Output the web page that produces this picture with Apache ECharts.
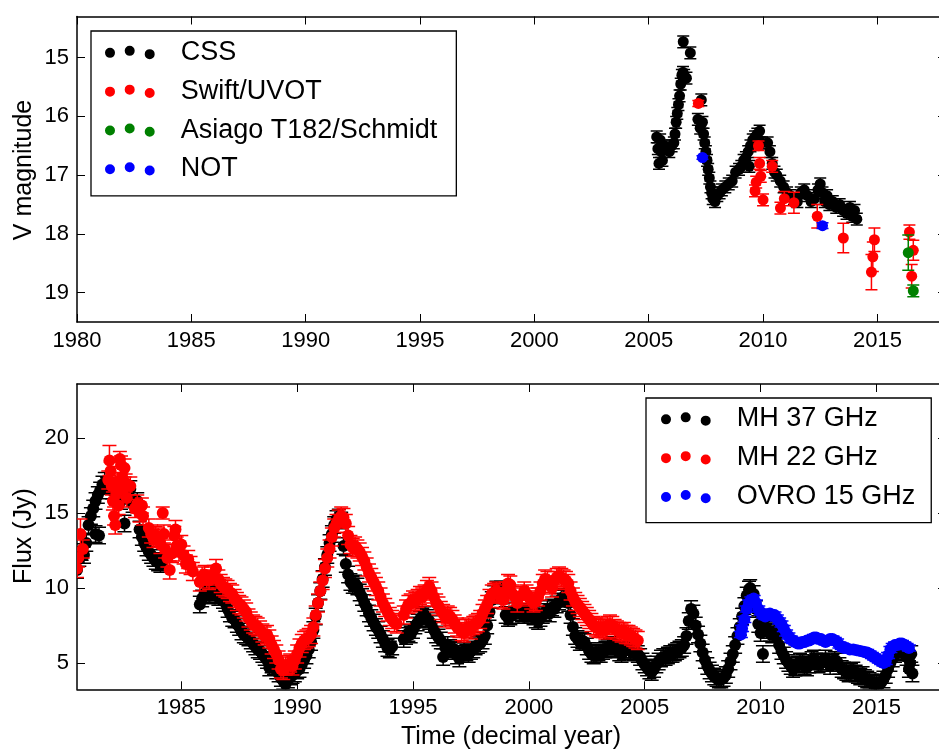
<!DOCTYPE html>
<html><head><meta charset="utf-8">
<script src="https://cdn.jsdelivr.net/npm/echarts@6/dist/echarts.min.js"></script>
<style>html,body{margin:0;padding:0;background:#fff;overflow:hidden}#c{width:939px;height:749px}</style>
</head><body><div id="c"></div>
<script>
// ---------- DATA ----------
const xTicksTop = [1980,1985,1990,1995,2000,2005,2010,2015];
const xTicksBot = [1985,1990,1995,2000,2005,2010,2015];
const magTicks = [15,16,17,18,19];
const fluxTicks = [5,10,15,20];

// [year, V mag, (err)]
const css = [[2005.35,16.35],[2005.4,16.55],[2005.45,16.8],[2005.5,16.4],[2005.55,16.6],[2005.6,16.75],[2005.7,16.5],[2005.8,16.55],[2005.9,16.6],[2006.0,16.5],[2006.1,16.45],[2006.15,16.3],[2006.2,16.1],[2006.25,15.95],[2006.3,15.8],[2006.35,15.65],[2006.4,15.45],[2006.45,15.3],[2006.5,15.25],[2006.55,15.3],[2006.65,15.35],[2006.51,14.73],[2006.82,14.92],[2007.3,15.72],[2007.15,16.05],[2007.25,16.2],[2007.35,16.1],[2007.4,16.3],[2007.45,16.45],[2007.5,16.6],[2007.55,16.75],[2007.6,16.9],[2007.65,17.05],[2007.7,17.2],[2007.75,17.3],[2007.8,17.4],[2007.9,17.45],[2008.0,17.35],[2008.1,17.3],[2008.2,17.25],[2008.35,17.2],[2008.5,17.15],[2008.65,17.1],[2008.8,16.95],[2008.95,16.9],[2009.05,16.85],[2009.15,16.75],[2009.25,16.7],[2009.35,16.6],[2009.4,16.85],[2009.45,16.5],[2009.55,16.4],[2009.65,16.35],[2009.75,16.3],[2009.85,16.25],[2009.95,16.45],[2010.2,16.45],[2010.3,16.6],[2010.4,16.8],[2010.5,16.95],[2010.6,17.0],[2010.75,17.1],[2010.9,17.2],[2011.05,17.3],[2011.2,17.35],[2011.35,17.4],[2011.5,17.45],[2011.65,17.3],[2011.8,17.25],[2011.95,17.35],[2012.1,17.45],[2012.25,17.4],[2012.4,17.25],[2012.5,17.15],[2012.6,17.3],[2012.7,17.45],[2012.8,17.35],[2012.9,17.5],[2013.05,17.45],[2013.2,17.55],[2013.35,17.5],[2013.5,17.6],[2013.65,17.65],[2013.8,17.55],[2013.9,17.7],[2014.0,17.6],[2014.1,17.75]];
const swift = [[2007.17,15.78,0.05],[2009.65,17.27,0.1],[2009.8,16.5,0.08],[2009.85,16.8,0.1],[2009.9,17.02,0.1],[2009.7,17.12,0.1],[2010.0,17.42,0.1],[2010.4,16.85,0.1],[2010.76,17.56,0.1],[2010.93,17.4,0.12],[2011.35,17.47,0.18],[2012.37,17.7,0.2],[2013.51,18.07,0.25],[2014.74,18.65,0.3],[2014.8,18.39,0.25],[2014.87,18.1,0.2],[2016.4,17.97,0.12],[2016.57,18.28,0.17],[2016.5,18.72,0.2]];
const asiago = [[2016.35,18.32,0.3],[2016.57,18.97,0.1]];
const notObs = [[2007.35,16.7,0.03],[2012.6,17.86,0.05]];

// [year, flux Jy, (err)]
const mh37 = [[1980.5,11.2],[1980.6,12.0],[1980.7,12.4],[1980.8,12.2],[1980.9,13.0],[1981.0,14.2],[1981.1,14.8],[1981.2,15.3],[1981.3,13.6],[1981.3,15.8],[1981.4,16.2],[1981.45,13.5],[1981.5,16.5],[1981.6,16.9],[1981.7,17.0,0.7],[1981.8,16.8],[1982.0,16.5],[1982.2,16.2],[1982.4,15.8],[1982.55,14.3],[1982.6,16.2],[1982.8,16.6],[1982.9,15.6],[1983.1,15.8],[1983.2,13.9],[1983.3,13.4],[1983.4,13.0],[1983.5,12.7],[1983.6,12.4],[1983.7,12.2],[1983.8,12.0],[1983.9,11.8],[1984.0,11.7],[1984.1,11.6],[1984.2,11.8],
[1985.8,8.9],[1985.9,9.3],[1986.0,9.6],[1986.1,9.8],[1986.2,9.5],[1986.3,9.7],[1986.4,9.9],[1986.5,9.6],[1986.6,9.4],[1986.7,9.5],[1986.8,9.2],[1986.9,9.0],[1987.0,8.6],[1987.1,8.3],[1987.2,8.0],[1987.3,7.9],[1987.4,7.6],[1987.5,7.4],[1987.6,7.1],[1987.7,6.9],[1987.8,6.8],[1987.9,6.7],[1988.0,6.5],[1988.1,6.3],[1988.2,6.1],[1988.3,5.9],[1988.4,5.8],[1988.5,5.6],[1988.6,5.4],[1988.7,5.2],[1988.8,4.7],[1988.9,4.9],[1989.0,4.8],[1989.1,4.5],[1989.2,4.3],[1989.3,4.0],[1989.4,3.8],[1989.5,3.6],[1989.6,3.9],[1989.7,4.1],[1989.8,4.2],[1989.9,4.3],[1990.0,4.5],[1990.1,4.6],[1990.2,4.9],[1990.3,5.2],[1990.4,5.5],[1990.5,5.9],[1990.6,6.4],[1990.7,7.2],[1990.8,8.1],[1990.9,9.0],[1991.0,9.8],[1991.1,10.6],[1991.2,11.4],[1991.3,12.2],[1991.4,13.0],[1991.5,13.6],[1991.6,14.2],[1991.7,14.6],[1991.8,14.7],[1991.9,14.5],[1992.0,12.8],[1992.1,11.6],[1992.2,10.9],[1992.3,10.4],[1992.4,10.2],[1992.5,10.3],[1992.6,10.1],[1992.7,9.7],[1992.8,9.4],[1992.9,9.0],[1993.0,8.7],[1993.1,8.3],[1993.2,8.0],[1993.3,7.7],[1993.4,7.4],[1993.5,7.2],[1993.6,6.9],[1993.7,6.6],[1993.8,6.3],[1993.9,6.0],[1994.0,5.9],[1994.1,6.1],
[1994.6,6.6],[1994.7,6.8],[1994.8,7.0],[1994.9,6.9],[1995.0,7.2],[1995.1,7.5],[1995.2,7.7],[1995.3,7.9],[1995.4,8.1],[1995.5,8.2],[1995.6,8.0],[1995.7,7.8],[1995.8,7.6],[1995.9,7.2],[1996.0,6.9],[1996.1,6.7],[1996.2,6.5],[1996.3,5.4],[1996.4,6.0],[1996.5,6.2],[1996.6,6.0],[1996.7,5.8],[1996.8,5.9],[1996.9,5.5],[1997.0,5.3],[1997.1,5.6],[1997.2,5.8],[1997.3,5.7],[1997.4,5.6],[1997.5,5.8],[1997.6,5.9],[1997.7,6.1],[1997.8,6.2],[1997.9,6.3],[1998.0,6.5],[1998.1,6.8],[1998.2,7.5],[1998.3,8.4],[1998.4,9.2],[1998.5,9.6],[1998.6,9.9],[1998.7,9.8],[1998.8,9.9],[1998.9,9.5],[1999.0,8.2],[1999.1,8.0],[1999.2,8.1],[1999.3,8.2],[1999.4,8.5],[1999.5,8.8],[1999.6,8.4],[1999.7,8.3],[1999.8,8.2],[1999.9,8.4],[2000.0,8.3],[2000.1,8.2],[2000.2,8.1],[2000.3,7.9],[2000.4,7.8],[2000.5,8.0],[2000.6,8.2],[2000.7,8.4],[2000.8,8.6],[2000.9,8.3],[2001.0,8.7],[2001.1,8.6],[2001.2,8.9],[2001.3,9.1],[2001.4,9.3],[2001.5,9.4],[2001.6,9.3],[2001.7,9.0],[2001.8,8.2],[2001.9,7.4],[2002.0,6.8],[2002.1,6.6],[2002.2,6.4],[2002.3,6.5],[2002.4,6.4],[2002.5,6.1],[2002.6,5.8],[2002.7,5.6],[2002.8,5.5],[2002.9,5.6],[2003.0,5.7],[2003.1,5.6],[2003.2,5.8],[2003.3,5.9],[2003.4,6.0],[2003.5,6.1],[2003.6,6.2],[2003.7,6.0],[2003.8,5.9],[2003.9,5.7],[2004.0,5.6],[2004.1,5.8],[2004.2,5.9],[2004.3,5.9],[2004.4,5.8],[2004.5,5.7],[2004.6,5.8],[2004.7,5.6],[2004.8,5.4],[2004.9,5.1],[2005.0,4.9],[2005.1,4.7],[2005.2,4.5],[2005.3,4.4],[2005.4,4.6],[2005.5,4.9],[2005.6,5.1],[2005.7,5.3],[2005.8,5.4],[2005.9,5.4],[2006.0,5.5],[2006.1,5.6],[2006.2,5.6],[2006.3,5.7],[2006.4,5.8],[2006.5,5.9],[2006.6,6.0],[2006.7,6.2],[2006.8,6.8],[2006.9,7.8],[2007.0,8.6],[2007.1,8.3],[2007.2,7.5],[2007.3,6.9],[2007.4,6.3],[2007.5,5.7],[2007.6,5.2],[2007.7,4.8],[2007.8,4.5],[2007.9,4.3],[2008.0,4.1],[2008.1,4.0],[2008.2,3.9],[2008.3,3.9],[2008.4,4.0],[2008.5,4.2],[2008.6,4.6],[2008.7,5.1],[2008.8,5.6],[2008.9,6.2],[2009.0,6.8],[2009.1,7.4],[2009.2,8.1],[2009.3,8.8],[2009.4,9.5],[2009.5,9.9],[2009.55,10.0],[2009.7,9.6],[2009.8,8.6],[2009.9,7.6],[2010.0,7.0],[2010.1,5.6],[2010.15,7.3],[2010.2,7.4],[2010.3,7.2],[2010.4,7.0],[2010.5,6.9],[2010.6,7.1],[2010.7,6.7],[2010.8,6.2],[2010.9,5.8],[2011.0,5.5],[2011.1,5.2],[2011.2,5.0],[2011.3,4.8],[2011.4,4.6],[2011.5,4.7],[2011.6,4.9],[2011.7,5.1],[2011.8,5.0],[2011.9,4.8],[2012.0,4.7],[2012.1,4.9],[2012.2,5.2],[2012.3,5.3],[2012.4,5.1],[2012.5,4.9],[2012.6,5.0],[2012.7,5.1],[2012.8,5.3],[2012.9,5.0],[2013.0,4.8],[2013.1,5.0],[2013.2,5.2],[2013.3,5.1],[2013.4,4.8],[2013.5,4.6],[2013.6,4.5],[2013.7,4.4],[2013.8,4.3],[2013.9,4.4],[2014.0,4.5],[2014.1,4.3],[2014.2,4.2],[2014.3,4.1],[2014.4,4.2],[2014.5,4.0],[2014.6,3.9],[2014.7,3.8],[2014.8,3.7],[2014.9,3.6],[2015.0,3.6],[2015.1,3.5],[2015.2,3.7],[2015.3,3.9],[2015.4,4.2],[2015.5,4.6],[2015.6,5.0],[2015.7,5.3],[2015.8,5.6],[2015.9,5.8],[2016.0,5.9],[2016.1,5.8],[2016.2,5.7],[2016.3,5.4],[2016.4,4.6],[2016.45,5.0],[2016.5,5.6],[2016.55,4.3]];

const mh22 = [[1980.5,11.3],[1980.55,12.0],[1980.65,13.6,1.0],[1980.75,12.6],
[1981.85,17.2],[1981.9,18.5,1.0],[1981.95,17.8],[1982.0,16.8],[1982.05,15.8],[1982.1,14.8],[1982.15,14.2],[1982.2,16.3],[1982.25,17.1],[1982.3,15.5],[1982.35,18.6,0.5],[1982.4,18.2],[1982.45,17.4],[1982.5,16.6],[1982.55,18.0],[1982.6,17.0],[1982.65,16.0],[1982.8,16.8],[1983.0,15.3],[1983.1,15.6],[1983.2,15.0],[1983.3,15.5,0.5],[1983.35,14.8],
[1983.6,14.0],[1983.7,13.6],[1983.8,13.3],[1983.9,13.5],[1984.0,13.4],[1984.1,12.9],[1984.2,15.0,0.4],[1984.25,13.6],[1984.3,12.6],[1984.4,12.0],[1984.5,11.2],[1984.6,12.3],[1984.7,13.5],[1984.75,13.9],[1984.8,12.8],[1984.9,12.4],[1985.0,12.9],[1985.1,12.2],[1985.2,11.6],[1985.3,11.9],[1985.4,11.5],[1985.5,11.1],
[1985.8,10.4],[1985.9,10.8],[1986.0,10.9],[1986.1,10.6],[1986.2,10.5],[1986.3,10.8],[1986.4,10.9],[1986.5,11.3],[1986.6,10.6],[1986.7,10.3],[1986.8,10.1],[1986.9,10.0],[1987.0,9.9],[1987.1,9.7],[1987.2,9.6],[1987.3,9.3],[1987.4,9.1],[1987.5,8.9],[1987.6,8.8],[1987.7,8.6],[1987.8,8.4],[1987.9,8.0],[1988.0,7.8],[1988.1,7.6],[1988.2,7.5],[1988.3,7.4],[1988.4,7.2],[1988.5,7.0],[1988.6,6.8],[1988.7,6.9],[1988.8,6.6],[1988.9,6.2],[1989.0,5.9],[1989.1,5.6],[1989.2,5.2],[1989.3,4.6],[1989.4,4.5],[1989.5,4.8],[1989.6,4.9],[1989.7,5.0],[1989.8,4.8],[1989.9,5.2],[1990.0,5.6],[1990.1,6.0],[1990.2,6.3],[1990.3,6.5],[1990.4,6.6],[1990.5,6.7],[1990.6,6.9],[1990.7,7.4],[1990.8,8.2],[1990.9,9.0],[1991.0,9.8],[1991.1,10.5],[1991.2,11.3],[1991.3,12.0],[1991.4,12.6],[1991.5,13.4],[1991.6,14.0],[1991.7,14.3],[1991.8,14.6],[1991.9,14.8],[1992.0,14.7],[1992.1,14.3],[1992.2,13.5],[1992.3,12.9],[1992.4,12.7],[1992.5,12.8],[1992.6,12.6],[1992.7,12.4],[1992.8,12.1],[1992.9,11.8],[1993.0,11.4],[1993.1,11.0],[1993.2,10.7],[1993.3,10.4],[1993.4,10.1],[1993.5,9.8],[1993.6,9.4],[1993.7,9.0],[1993.8,8.7],[1993.9,8.4],[1994.0,8.1],[1994.1,7.9],[1994.2,7.7],[1994.3,7.6],
[1994.6,8.2],[1994.7,8.6],[1994.8,8.9],[1994.9,9.0],[1995.0,9.2],[1995.1,9.1],[1995.2,9.3],[1995.3,9.5],[1995.4,9.4],[1995.5,9.6],[1995.6,9.9],[1995.7,10.1],[1995.8,9.8],[1995.9,9.4],[1996.0,9.0],[1996.1,8.8],[1996.2,8.5],[1996.3,8.3],[1996.4,8.0],[1996.5,8.2],[1996.6,8.1],[1996.7,7.9],[1996.8,7.6],[1996.9,7.4],[1997.0,7.3],[1997.1,7.1],[1997.2,7.0],[1997.3,7.3],[1997.4,7.4],[1997.5,7.2],[1997.6,7.5],[1997.7,7.6],[1997.8,7.7],[1997.9,7.9],[1998.0,8.3],[1998.1,8.6],[1998.2,8.9],[1998.3,9.3],[1998.4,9.6],[1998.5,9.7],[1998.6,9.8],[1998.7,9.6],[1998.8,9.3],[1998.9,9.2],[1999.0,9.8],[1999.1,10.3],[1999.2,10.2],[1999.3,9.6],[1999.4,9.4],[1999.5,9.0],
[1999.7,9.5],[1999.8,9.8],[1999.9,9.6],[2000.0,9.4],[2000.1,9.2],[2000.2,9.0],[2000.3,9.1],[2000.4,9.4],[2000.5,9.8],[2000.6,10.3],[2000.7,10.6],[2000.8,10.5],[2000.9,10.2],[2001.0,10.0],[2001.1,10.5],[2001.2,10.7],[2001.3,10.8],[2001.4,10.7],[2001.5,10.6],[2001.6,10.5],[2001.7,10.3],[2001.8,9.8],[2001.9,9.4],[2002.0,9.1],[2002.1,8.9],[2002.2,8.7],[2002.3,8.5],[2002.4,8.3],[2002.5,8.1],[2002.6,7.9],[2002.7,7.7],[2002.8,7.5],[2002.9,7.4],[2003.0,7.3],[2003.1,7.4],[2003.2,7.3],[2003.3,7.2],[2003.4,7.5],[2003.5,7.6],[2003.6,7.5],[2003.7,7.3],[2003.8,7.2],[2003.9,7.1],[2004.0,7.0],[2004.1,7.1],[2004.2,6.9],[2004.3,6.9],[2004.4,6.8],[2004.5,6.7],[2004.6,6.6],[2004.7,6.5]];

const ovro = [[2009.15,6.9],[2009.2,7.3],[2009.3,7.9],[2009.4,8.6],[2009.5,9.0],[2009.6,9.2],[2009.7,9.3],[2009.8,9.0],[2009.9,8.6],[2010.0,8.4],[2010.1,8.2],[2010.2,8.1],[2010.3,8.2],[2010.4,8.3],[2010.5,8.2],[2010.6,8.2],[2010.7,8.0],[2010.8,7.8],[2010.9,7.6],[2011.0,7.3],[2011.1,7.0],[2011.2,6.8],[2011.3,6.6],[2011.4,6.5],[2011.5,6.4],[2011.6,6.3],[2011.7,6.3],[2011.8,6.4],[2011.9,6.4],[2012.0,6.5],[2012.1,6.5],[2012.2,6.6],[2012.3,6.7],[2012.4,6.7],[2012.5,6.6],[2012.6,6.6],[2012.7,6.5],[2012.8,6.4],[2012.9,6.5],[2013.0,6.6],[2013.1,6.6],[2013.2,6.5],[2013.3,6.4],[2013.4,6.2],[2013.5,6.1],[2013.6,6.0],[2013.7,6.0],[2013.85,5.9],[2014.0,5.9],[2014.15,5.85],[2014.3,5.8],[2014.45,5.75],[2014.6,5.7],[2014.7,5.6],[2014.8,5.5],[2014.9,5.4],[2015.0,5.3],[2015.1,5.2],[2015.2,5.1],[2015.3,5.0],[2015.4,5.1],[2015.5,5.5],[2015.6,5.9],[2015.7,6.1],[2015.8,6.2],[2015.9,6.2],[2016.0,6.3],[2016.1,6.3],[2016.2,6.2],[2016.3,6.1],[2016.4,6.0]];

const defaultErr = {css:0.1, swift:0.1, asiago:0.1, not:0.05, mh37:0.55, mh22:0.6, ovro:0.2};

// ---------- CHART ----------
const FONT = "'Liberation Sans', Arial, sans-serif";
const withErr = (arr, e) => arr.map(d => [d[0], d[1], d.length > 2 ? d[2] : e]);

function errRender(capHalf, r) {
  return function (params, api) {
    const x = api.value(0), y = api.value(1), e = api.value(2);
    const c = api.coord([x, y]);
    const a = api.coord([x, y - e]);
    const b = api.coord([x, y + e]);
    const col = api.visual('color');
    const ls = {stroke: col, lineWidth: 1.5};
    return {type: 'group', children: [
      {type: 'circle', shape: {cx: c[0], cy: c[1], r: r}, style: {fill: col}},
      {type: 'line', shape: {x1: c[0], y1: a[1], x2: c[0], y2: b[1]}, style: ls},
      {type: 'line', shape: {x1: c[0] - capHalf, y1: a[1], x2: c[0] + capHalf, y2: a[1]}, style: ls},
      {type: 'line', shape: {x1: c[0] - capHalf, y1: b[1], x2: c[0] + capHalf, y2: b[1]}, style: ls}
    ]};
  };
}

const dotsIcon = 'path://M0,7a5,5 0 1,0 10,0a5,5 0 1,0 -10,0zM19.7,5a5,5 0 1,0 10,0a5,5 0 1,0 -10,0zM39.7,8.3a5,5 0 1,0 10,0a5,5 0 1,0 -10,0z';

function mkSeries(name, data, color, xi, yi, cap, r) {
  return {
    type: 'custom', name: name, xAxisIndex: xi, yAxisIndex: yi,
    renderItem: errRender(cap, r), data: data, encode: {x: 0, y: 1},
    itemStyle: {color: color}, clip: true, animation: false, silent: true
  };
}

const axisLineStyle = {lineStyle: {color: '#000', width: 1.5}};
const tickStyle = (vals) => ({show: true, inside: true, length: 8, lineStyle: {color: '#000', width: 1}, customValues: vals});
const labelStyle = (vals, show) => ({show: show, color: '#000', fontSize: 22, fontFamily: FONT, margin: 8, customValues: vals, formatter: v => String(v)});

const legendCommon = {
  orient: 'vertical', icon: dotsIcon, itemWidth: 49.7, itemHeight: 13.3, itemGap: 10.8,
  borderColor: '#000', borderWidth: 1.3, borderRadius: 0, backgroundColor: '#fff',
  selectedMode: false,
  textStyle: {fontSize: 27, fontFamily: FONT, color: '#000', lineHeight: 28, padding: [0, 0, 0, 21]}
};

const gridCommon = {show: false, containLabel: false, outerBoundsMode: 'none'};

const option = {
  animation: false,
  backgroundColor: '#fff',
  grid: [
    Object.assign({left: 77, top: 16.5, width: 869, height: 305.5}, gridCommon),
    Object.assign({left: 77, top: 384, width: 869, height: 305.3}, gridCommon)
  ],
  xAxis: [
    {type: 'value', gridIndex: 0, min: 1980, max: 2018, position: 'bottom', axisLine: axisLineStyle, axisTick: tickStyle(xTicksTop), axisLabel: labelStyle(xTicksTop, true), splitLine: {show: false}},
    {type: 'value', gridIndex: 0, min: 1980, max: 2018, position: 'top', axisLine: axisLineStyle, axisTick: tickStyle(xTicksTop), axisLabel: labelStyle(xTicksTop, false), splitLine: {show: false}},
    {type: 'value', gridIndex: 1, min: 1980.5, max: 2018, position: 'bottom', axisLine: axisLineStyle, axisTick: tickStyle(xTicksBot), axisLabel: labelStyle(xTicksBot, true), splitLine: {show: false}},
    {type: 'value', gridIndex: 1, min: 1980.5, max: 2018, position: 'top', axisLine: axisLineStyle, axisTick: tickStyle(xTicksBot), axisLabel: labelStyle(xTicksBot, false), splitLine: {show: false}}
  ],
  yAxis: [
    {type: 'value', gridIndex: 0, min: 14.3, max: 19.5, inverse: true, position: 'left', axisLine: axisLineStyle, axisTick: tickStyle(magTicks), axisLabel: labelStyle(magTicks, true), splitLine: {show: false}},
    {type: 'value', gridIndex: 0, min: 14.3, max: 19.5, inverse: true, position: 'right', axisLine: axisLineStyle, axisTick: tickStyle(magTicks), axisLabel: labelStyle(magTicks, false), splitLine: {show: false}},
    {type: 'value', gridIndex: 1, min: 3.25, max: 23.6, position: 'left', axisLine: axisLineStyle, axisTick: tickStyle(fluxTicks), axisLabel: labelStyle(fluxTicks, true), splitLine: {show: false}},
    {type: 'value', gridIndex: 1, min: 3.25, max: 23.6, position: 'right', axisLine: axisLineStyle, axisTick: tickStyle(fluxTicks), axisLabel: labelStyle(fluxTicks, false), splitLine: {show: false}}
  ],
  legend: [
    Object.assign({}, legendCommon, {left: 91, top: 31, padding: [7.5, 19, 13, 14],
      data: ['CSS', 'Swift/UVOT', 'Asiago T182/Schmidt', 'NOT']}),
    Object.assign({}, legendCommon, {left: 646, top: 398, padding: [7, 16, 12, 15],
      data: ['MH 37 GHz', 'MH 22 GHz', 'OVRO 15 GHz']})
  ],
  graphic: [
    {type: 'text', x: 24, y: 170, rotation: Math.PI / 2, style: {text: 'V magnitude', font: "25px 'Liberation Sans', Arial, sans-serif", fill: '#000', align: 'center', verticalAlign: 'middle'}},
    {type: 'text', x: 24, y: 536, rotation: Math.PI / 2, style: {text: 'Flux (Jy)', font: "25px 'Liberation Sans', Arial, sans-serif", fill: '#000', align: 'center', verticalAlign: 'middle'}},
    {type: 'text', x: 511, y: 737, style: {text: 'Time (decimal year)', font: "25px 'Liberation Sans', Arial, sans-serif", fill: '#000', align: 'center', verticalAlign: 'middle'}}
  ],
  series: [
    mkSeries('CSS', withErr(css, defaultErr.css), '#000000', 0, 0, 6, 5.5),
    mkSeries('Swift/UVOT', withErr(swift, defaultErr.swift), '#ff0000', 0, 0, 6, 5.5),
    mkSeries('Asiago T182/Schmidt', withErr(asiago, defaultErr.asiago), '#008000', 0, 0, 6, 5.5),
    mkSeries('NOT', withErr(notObs, defaultErr.not), '#0000ff', 0, 0, 6, 5.5),
    mkSeries('MH 37 GHz', withErr(mh37, defaultErr.mh37), '#000000', 2, 2, 7, 6),
    mkSeries('MH 22 GHz', withErr(mh22, defaultErr.mh22), '#ff0000', 2, 2, 7, 6),
    mkSeries('OVRO 15 GHz', withErr(ovro, defaultErr.ovro), '#0000ff', 2, 2, 7, 6)
  ]
};

const chart = echarts.init(document.getElementById('c'), null, {renderer: 'canvas'});
chart.setOption(option);
</script>
</body></html>
